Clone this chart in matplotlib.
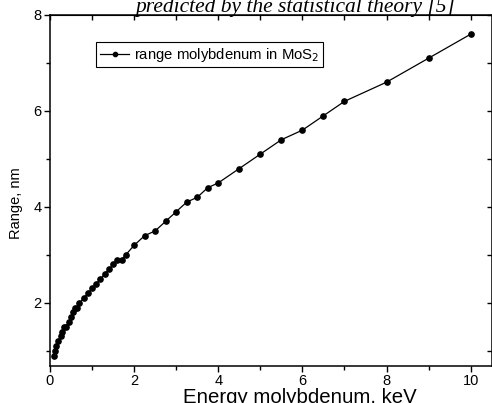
import numpy as np
import matplotlib.pyplot as plt
from matplotlib.ticker import MultipleLocator

# energy of Mo ions (keV) and projected range in MoS2 (nm)
energy = [0.1, 0.125, 0.15, 0.2, 0.25, 0.275, 0.325, 0.375, 0.45, 0.5,
          0.55, 0.6, 0.65, 0.7, 0.8, 0.9, 1.0, 1.1, 1.2, 1.3,
          1.4, 1.5, 1.6, 1.7, 1.8, 2.0, 2.25, 2.5, 2.75, 3.0,
          3.25, 3.5, 3.75, 4.0, 4.5, 5.0, 5.5, 6.0, 6.5, 7.0,
          8.0, 9.0, 10.0]
range_nm = [0.9, 1.0, 1.1, 1.2, 1.3, 1.4, 1.5, 1.5, 1.6, 1.7,
            1.8, 1.9, 1.9, 2.0, 2.1, 2.2, 2.3, 2.4, 2.5, 2.6,
            2.7, 2.8, 2.9, 2.9, 3.0, 3.2, 3.4, 3.5, 3.7, 3.9,
            4.1, 4.2, 4.4, 4.5, 4.8, 5.1, 5.4, 5.6, 5.9, 6.2,
            6.6, 7.1, 7.6]

plt.rcParams['font.family'] = ['Liberation Sans', 'DejaVu Sans']

fig = plt.figure(figsize=(4.92, 4.03), dpi=100)
ax = fig.add_axes([50/492, 1 - 365.7/403, 441.7/492, 350.7/403])

ax.plot(energy, range_nm, color='black', lw=0.9, marker='o', ms=3.8,
        label='range molybdenum in MoS$_2$')

ax.set_xlim(0, 10.5)
ax.set_ylim(0.69, 8)
ax.xaxis.set_major_locator(MultipleLocator(2))
ax.xaxis.set_minor_locator(MultipleLocator(1))
ax.yaxis.set_major_locator(MultipleLocator(2))
ax.yaxis.set_minor_locator(MultipleLocator(1))

ax.tick_params(which='both', direction='out', top=False, right=False,
               labelsize=10.5, width=1.0)
ax.tick_params(which='major', length=4.5, pad=1.5)
ax.tick_params(which='minor', length=3)
for s in ax.spines.values():
    s.set_linewidth(1.1)

# inward ticks on top and right
sec_x = ax.secondary_xaxis('top')
sec_x.xaxis.set_major_locator(MultipleLocator(1))
sec_x.tick_params(direction='in', length=3.5, width=1.0, labeltop=False)
sec_y = ax.secondary_yaxis('right')
sec_y.yaxis.set_major_locator(MultipleLocator(1))
sec_y.tick_params(direction='in', length=3.5, width=1.0, labelright=False)

ax.set_xlabel('Energy molybdenum, keV', fontsize=14.7)
ax.xaxis.set_label_coords(0.566, -0.064)
ax.set_ylabel('Range, nm', fontsize=10.5)
ax.yaxis.set_label_coords(-0.062, 0.464)

leg = ax.legend(loc='upper left', bbox_to_anchor=(0.104, 0.923),
                borderaxespad=0, fancybox=False, edgecolor='black',
                framealpha=1, fontsize=10.7, handlelength=2.0,
                handletextpad=0.3, borderpad=0.25, markerscale=0.8)
leg.get_frame().set_linewidth(0.8)

# caption line of the source page, cut off by the top edge
fig.text(455/492, 1 - 12/403, 'predicted by the statistical theory [5]',
         ha='right', va='baseline', fontsize=15.5, style='italic',
         family=['Liberation Serif', 'DejaVu Serif'])

fig.savefig('out.png', dpi=100)
